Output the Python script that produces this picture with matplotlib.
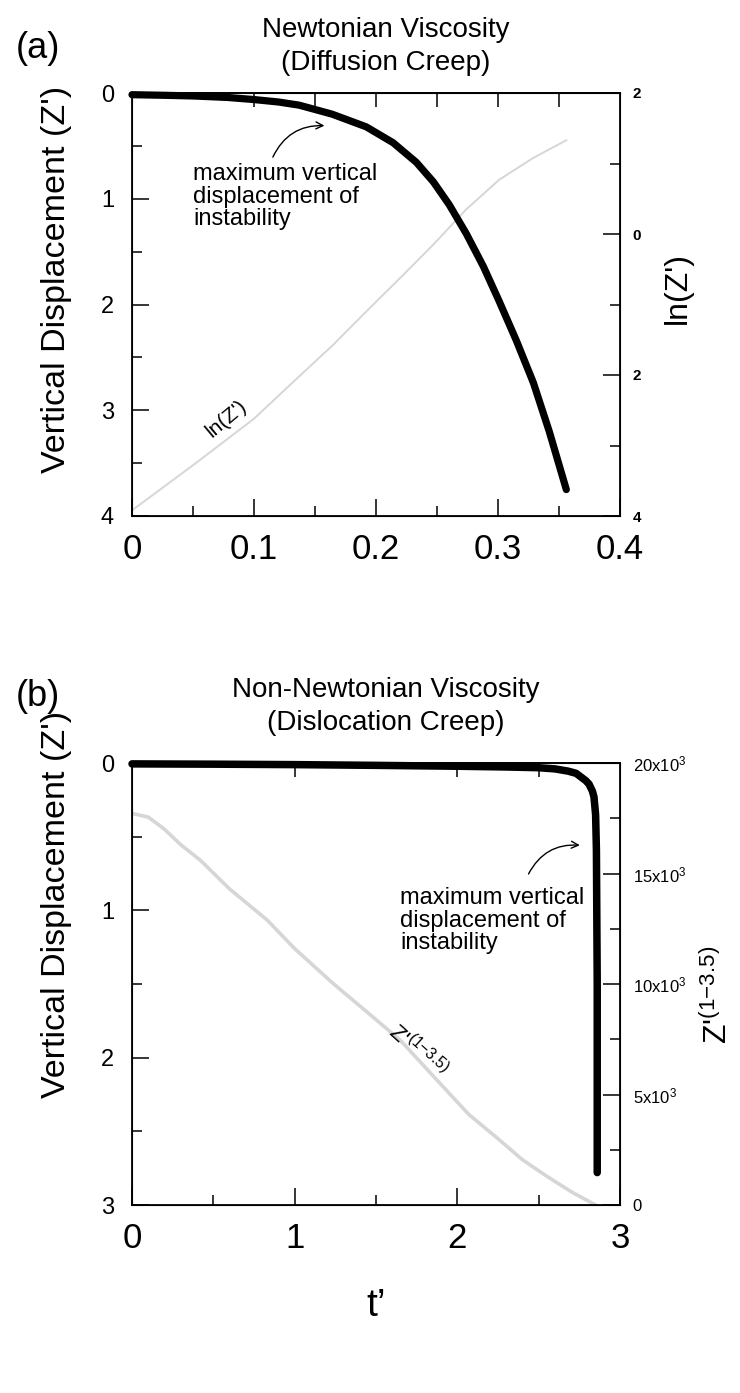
import matplotlib
matplotlib.use("Agg")
import matplotlib.pyplot as plt
from matplotlib.ticker import MultipleLocator

plt.rcParams["font.family"] = ["Liberation Sans", "DejaVu Sans"]
plt.rcParams["mathtext.fontset"] = "custom"
plt.rcParams["mathtext.rm"] = "Liberation Sans"
plt.rcParams["mathtext.it"] = "Liberation Sans"

# (a) Newtonian viscosity: vertical displacement Z' against t'
t_newt = [0, 0.028, 0.05, 0.078, 0.1, 0.12, 0.137, 0.164, 0.192, 0.214,
          0.233, 0.247, 0.26, 0.274, 0.288, 0.301, 0.315, 0.329, 0.342, 0.356]
z_newt = [0.016, 0.022, 0.028, 0.042, 0.062, 0.085, 0.115, 0.2, 0.32, 0.47,
          0.655, 0.84, 1.056, 1.33, 1.64, 1.97, 2.34, 2.74, 3.2, 3.75]
# ln(Z') on the right-hand axis
t_newt_ln = [0, 0.05, 0.1, 0.137, 0.165, 0.192, 0.22, 0.247, 0.274, 0.301, 0.329, 0.356]
ln_newt = [-3.92, -3.28, -2.62, -2.02, -1.57, -1.10, -0.62, -0.15, 0.35, 0.77, 1.08, 1.33]

# (b) non-Newtonian viscosity
t_nonnewt = [0, 0.5, 1.0, 1.5, 2.0, 2.3, 2.5, 2.6, 2.68, 2.73, 2.76, 2.79,
             2.81, 2.83, 2.84, 2.85, 2.855, 2.86, 2.86]
z_nonnewt = [0.006, 0.008, 0.011, 0.016, 0.022, 0.027, 0.032, 0.040, 0.055, 0.070,
             0.095, 0.120, 0.144, 0.190, 0.230, 0.350, 0.590, 1.50, 2.78]
# Z'^(1-3.5) on the right-hand axis
t_nonnewt_pow = [0, 0.1, 0.2, 0.3, 0.42, 0.6, 0.83, 1.0, 1.24, 1.45, 1.65,
                 1.85, 2.07, 2.25, 2.4, 2.55, 2.7, 2.85]
pow_nonnewt = [17720, 17550, 17000, 16300, 15600, 14300, 12900, 11600, 10000,
               8700, 7450, 5850, 4100, 3000, 2050, 1300, 600, 0]

xticks_a = [0, 0.1, 0.2, 0.3, 0.4]
xticklabels_a = ["0", "0.1", "0.2", "0.3", "0.4"]
rticks_a = [2, 0, -2, -4]
rticklabels_a = ["2", "0", "2", "4"]
rticks_b = [0, 5000, 10000, 15000, 20000]
rticklabels_b = ["0", r"5x10$^{\mathregular{3}}$", r"10x10$^{\mathregular{3}}$",
                 r"15x10$^{\mathregular{3}}$", r"20x10$^{\mathregular{3}}$"]

note = "maximum vertical\ndisplacement of\ninstability"
power_label = r"Z'$^{\mathregular{(1{-}3.5)}}$"
GRAY = "#d6d6d6"
W, H = 740, 1393

fig = plt.figure(figsize=(W / 100, H / 100), dpi=100)
ax_a = fig.add_axes([132 / W, 1 - 516 / H, 488 / W, 423 / H])
ax_b = fig.add_axes([132 / W, 1 - 1205 / H, 488 / W, 442 / H])


def style_axes(ax, top_ticks, ymajor, yminor, xminor):
    for s in ax.spines.values():
        s.set_linewidth(1.3)
    ax.yaxis.set_major_locator(MultipleLocator(ymajor))
    ax.yaxis.set_minor_locator(MultipleLocator(yminor))
    ax.xaxis.set_minor_locator(MultipleLocator(xminor))
    ax.tick_params(which="major", direction="in", length=12, width=1.1)
    ax.tick_params(which="minor", direction="in", length=7, width=1.1)
    ax.tick_params(axis="x", labelsize=25, pad=12)
    ax.tick_params(axis="y", labelsize=17, pad=13)
    sec = ax.secondary_xaxis("top")
    sec.set_xticks(top_ticks)
    sec.tick_params(direction="in", length=10, width=1.1, labeltop=False)
    sec.spines["top"].set_linewidth(1.3)


def style_right(ax2, minor, size):
    ax2.yaxis.set_minor_locator(MultipleLocator(minor))
    ax2.tick_params(which="major", direction="in", length=12, width=1.1, labelsize=size, pad=9)
    ax2.tick_params(which="minor", direction="in", length=7, width=1.1)


# ---- panel (a)
ax_a.plot(t_newt, z_newt, color="black", lw=5.2, solid_capstyle="round", clip_on=False, zorder=4)
ax_a.set_xlim(0, 0.4)
ax_a.set_ylim(4, 0)
ax_a.set_xticks(xticks_a)
ax_a.set_xticklabels(xticklabels_a)
style_axes(ax_a, [0.1, 0.15, 0.2, 0.25, 0.3, 0.35], 1, 0.5, 0.05)
ax_a.set_ylabel("Vertical Displacement (Z')", fontsize=24.5)
ax_a.yaxis.set_label_coords(-0.123, 0.56)

ax_a2 = ax_a.twinx()
ax_a2.plot(t_newt_ln, ln_newt, color=GRAY, lw=1.4, zorder=2)
ax_a2.set_ylim(-4, 2)
ax_a2.set_yticks(rticks_a)
ax_a2.set_yticklabels(rticklabels_a, fontweight="bold")
style_right(ax_a2, 1, 11)
ax_a2.set_ylabel("ln(Z')", fontsize=23)
ax_a2.yaxis.set_label_coords(1.088, 0.54)
ax_a.set_zorder(ax_a2.get_zorder() + 1)
ax_a.patch.set_visible(False)

ax_a.text(0.0775, 3.08, "ln(Z')", fontsize=15, rotation=40, ha="center", va="center")
ax_a.annotate(note, xy=(0.16, 0.31), xytext=(0.05, 0.66), fontsize=17,
              ha="left", va="top", linespacing=1.05)
ax_a.annotate("", xy=(0.16, 0.31), xytext=(0.1145, 0.63),
              arrowprops=dict(arrowstyle="->,head_length=0.5,head_width=0.25",
                              color="black", lw=1.0,
                              connectionstyle="arc3,rad=-0.35"))
ax_a.text(0.52, 1.04, "Newtonian Viscosity\n(Diffusion Creep)", transform=ax_a.transAxes,
          fontsize=20, ha="center", va="bottom", linespacing=1.35)
fig.text(38 / W, 1 - 48 / H, "(a)", fontsize=26, ha="center", va="center")

# ---- panel (b)
ax_b.plot(t_nonnewt, z_nonnewt, color="black", lw=5.4, solid_capstyle="round", clip_on=False, zorder=4)
ax_b.set_xlim(0, 3)
ax_b.set_ylim(3, 0)
ax_b.set_xticks([0, 1, 2, 3])
style_axes(ax_b, [1, 2, 2.5], 1, 0.5, 0.5)
ax_b.set_ylabel("Vertical Displacement (Z')", fontsize=24.5)
ax_b.yaxis.set_label_coords(-0.123, 0.68)
ax_b.set_xlabel("t\u2019", fontsize=28, labelpad=24)

ax_b2 = ax_b.twinx()
ax_b2.plot(t_nonnewt_pow, pow_nonnewt, color=GRAY, lw=2.6, zorder=2)
ax_b2.set_ylim(0, 20000)
ax_b2.set_yticks(rticks_b)
ax_b2.set_yticklabels(rticklabels_b)
style_right(ax_b2, 2500, 12)
ax_b2.set_ylabel(power_label, fontsize=23)
ax_b2.yaxis.set_label_coords(1.168, 0.475)
ax_b.set_zorder(ax_b2.get_zorder() + 1)
ax_b.patch.set_visible(False)

ax_b.text(1.6, 1.80, power_label, fontsize=16, rotation=-42,
          rotation_mode="anchor", ha="left", va="center")
ax_b.annotate(note, xy=(2.77, 0.56), xytext=(1.65, 0.84), fontsize=17,
              ha="left", va="top", linespacing=1.05)
ax_b.annotate("", xy=(2.77, 0.56), xytext=(2.43, 0.77),
              arrowprops=dict(arrowstyle="->,head_length=0.5,head_width=0.25",
                              color="black", lw=1.0,
                              connectionstyle="arc3,rad=-0.35"))
ax_b.text(0.52, 1.06, "Non-Newtonian Viscosity\n(Dislocation Creep)", transform=ax_b.transAxes,
          fontsize=20, ha="center", va="bottom", linespacing=1.35)
fig.text(38 / W, 1 - 697 / H, "(b)", fontsize=26, ha="center", va="center")

fig.savefig("out.png", dpi=100)
